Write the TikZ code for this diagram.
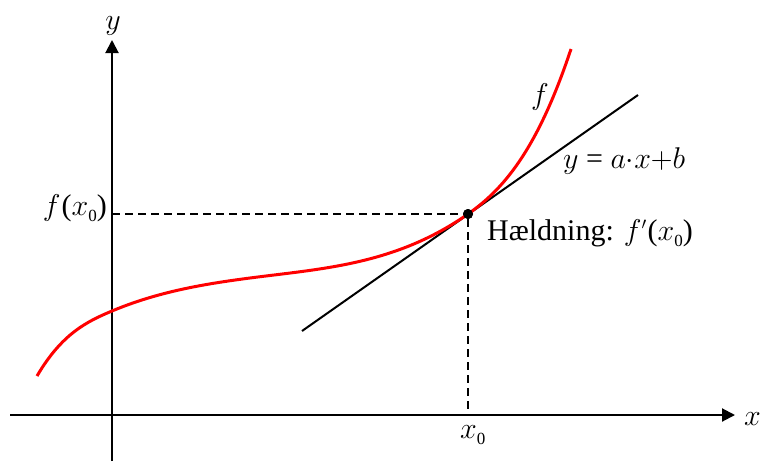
\RequirePackage{fix-cm}
\documentclass[tikz,border=0pt]{standalone}
\usepackage{fontspec}
\setmainfont{Liberation Serif}
\DeclareMathSizes{30}{30}{17}{13}
\usetikzlibrary{arrows.meta}
\newcommand{\subz}[1]{\raisebox{-0.22em}{\fontsize{17}{17}\selectfont #1}}
\newcommand{\vv}[1]{\ensuremath{#1}}
\begin{document}
\begin{tikzpicture}[x=1pt,y=-1pt,
  font=\fontsize{30}{36}\selectfont,
  axis/.style={line width=2pt,-{Triangle[length=13pt,width=13pt]}},
  dashline/.style={line width=1.4pt,dash pattern=on 8pt off 5pt},
  tangentline/.style={line width=2pt},
  fcurve/.style={line width=3pt,red},
  dotnode/.style={circle,fill=black,inner sep=0pt,minimum size=10pt},
  lab/.style={inner sep=0pt}]
\useasboundingbox (0,0) rectangle (760,461);
\coordinate (xs) at (10,415);
\coordinate (xe) at (735,415);
\coordinate (ys) at (112,461);
\coordinate (ye) at (112,40);
\coordinate (Py) at (112,214);
\coordinate (Px) at (468,415);
\coordinate (T1) at (302,331);
\coordinate (T2) at (638,95);
\coordinate (C0) at (37,376);
\coordinate (C1) at (112,311);
\coordinate (C2) at (250,278);
\coordinate (C4) at (571,49);
\draw[axis] (xs) -- (xe);
\draw[axis] (ys) -- (ye);
\node[dotnode] (P) at (468,214) {};
\draw[dashline] (Py) -- (P);
\draw[dashline] (P) -- (Px);
\draw[tangentline] (T1) -- (T2);
\draw[fcurve] (C0) .. controls (62,333.5) and (87,321.5) .. (C1)
  .. controls (158,291.7) and (204,284) .. (C2)
  .. controls (322.7,268.5) and (395.3,264.9) .. (P.center)
  .. controls (502.3,190) and (536.7,152) .. (C4);
\node[dotnode] at (P) {};
\node[lab,anchor=base] (ylab) at (113,29) {\vv{y}};
\node[lab,anchor=base west] (xlab) at (744,425) {\vv{x}};
\node[lab,anchor=base west] (x0lab) at (460,438) {\vv{x}\subz{0}};
\node[lab,anchor=base east] (fx0) at (107,215) {\vv{f}\kern1pt(\vv{x}\subz{0})};
\node[lab,anchor=base west] (slope) at (487,240) {Hældning: \vv{f'}\kern1pt(\vv{x}\subz{0})};
\node[lab,anchor=base west] (tlab) at (563,168) {\vv{y} = \vv{a{\cdot}x{+}b}};
\node[lab,anchor=base west] (flab) at (531,104) {\vv{f}};
\end{tikzpicture}
\end{document}
